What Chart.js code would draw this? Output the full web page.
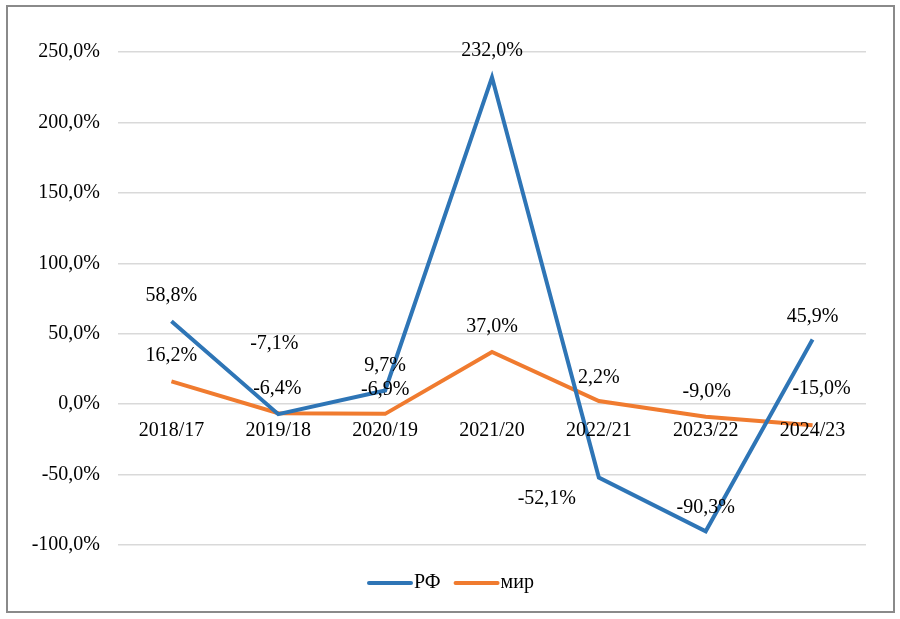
<!DOCTYPE html>
<html>
<head>
<meta charset="utf-8">
<title>РФ и мир</title>
<script src="https://cdn.jsdelivr.net/npm/chart.js@4.4.1/dist/chart.umd.min.js"></script>
<style>
  body { margin: 0; background: #fff; }
  #wrap { position: relative; width: 900px; height: 619px; }
  #frame { position: absolute; left: 6px; top: 5px; width: 885px; height: 604px; border: 2px solid #8a8a8a; pointer-events: none; }
  canvas { position: absolute; left: 0; top: 0; }
</style>
</head>
<body>
<div id="wrap">
  <canvas id="grafico" width="900" height="619"></canvas>
  <div id="frame"></div>
</div>
<script>
// данные
var periodos = ['2018/17', '2019/18', '2020/19', '2021/20', '2022/21', '2023/22', '2024/23'];
var valoresRF = [58.8, -7.1, 9.7, 232.0, -52.1, -90.3, 45.9];
var valoresMir = [16.2, -6.4, -6.9, 37.0, 2.2, -9.0, -15.0];
var nombresSeries = ['РФ', 'мир'];

var fuente = '"Liberation Serif", "Times New Roman", serif';

function formato(v) {
  return v.toFixed(1).replace('.', ',') + '%';
}

// desplazamiento de etiquetas (dx, dy desde el punto)
var desplazamientos = [
  [[0, -26], [-4, -70], [0, -25], [0, -27], [-52, 21], [0, -24], [0, -23]],
  [[0, -26], [-1, -24], [0, -24], [0, -25], [0, -23], [1, -25], [9, -37]]
];

var etiquetasPlugin = {
  id: 'etiquetas',
  afterDatasetsDraw: function (chart) {
    var ctx = chart.ctx;
    ctx.save();
    ctx.font = '20px ' + fuente;
    ctx.fillStyle = '#000';
    ctx.textAlign = 'center';
    ctx.textBaseline = 'middle';
    chart.data.datasets.forEach(function (ds, i) {
      chart.getDatasetMeta(i).data.forEach(function (p, j) {
        var d = desplazamientos[i][j];
        ctx.fillText(formato(ds.data[j]), p.x + d[0], p.y + d[1]);
      });
    });
    // categorías sobre la línea cero
    var y0 = chart.scales.y.getPixelForValue(0);
    chart.data.labels.forEach(function (l, j) {
      ctx.fillText(l, chart.scales.x.getPixelForValue(j), y0 + 27);
    });
    // leyenda
    var yl = 583;
    var x = 369;
    chart.data.datasets.forEach(function (ds) {
      ctx.strokeStyle = ds.borderColor;
      ctx.lineWidth = 4;
      ctx.lineCap = 'round';
      ctx.beginPath();
      ctx.moveTo(x, yl);
      ctx.lineTo(x + 42, yl);
      ctx.stroke();
      ctx.textAlign = 'left';
      ctx.fillText(ds.label, x + 45, yl);
      x += 45 + ctx.measureText(ds.label).width + 15;
    });
    ctx.restore();
  }
};

var ctx = document.getElementById('grafico').getContext('2d');
var grafica = new Chart(ctx, {
  type: 'line',
  data: {
    labels: periodos,
    datasets: [{
      label: nombresSeries[0],
      data: valoresRF,
      borderColor: '#2e75b6',
      borderWidth: 4,
      pointRadius: 0,
      tension: 0
    }, {
      label: nombresSeries[1],
      data: valoresMir,
      borderColor: '#f07b2f',
      borderWidth: 4,
      pointRadius: 0,
      tension: 0
    }]
  },
  options: {
    responsive: false,
    animation: false,
    layout: { padding: { left: 0, right: 34, top: 52, bottom: 74 } },
    plugins: {
      legend: { display: false },
      tooltip: { enabled: false }
    },
    scales: {
      x: {
        display: false,
        offset: true
      },
      y: {
        min: -100,
        max: 250,
        afterFit: function (scale) { scale.width = 118; },
        border: { display: false },
        grid: { color: '#d9d9d9', lineWidth: 1.5, drawTicks: false },
        ticks: {
          stepSize: 50,
          padding: 18,
          color: '#000',
          font: { family: fuente, size: 20 },
          callback: function (v) { return formato(v); }
        }
      }
    }
  },
  plugins: [etiquetasPlugin]
});
</script>
</body>
</html>
